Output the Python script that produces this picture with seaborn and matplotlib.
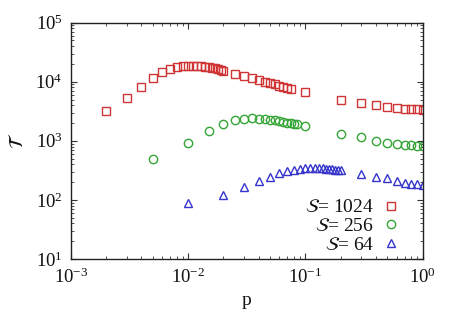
"""Relaxation time T versus p for three system sizes S (log-log)."""

import matplotlib.pyplot as plt
import matplotlib.ticker as mticker
import numpy as np
import pandas as pd
import seaborn as sns

# S = 1024
p_1024 = [0.002, 0.003, 0.004, 0.005, 0.006, 0.007, 0.008, 0.009,
          0.010, 0.011, 0.012, 0.013, 0.014, 0.015, 0.016, 0.017, 0.018, 0.019, 0.020,
          0.025, 0.030, 0.035, 0.040, 0.045, 0.050, 0.055, 0.060, 0.065, 0.070, 0.075,
          0.1, 0.2, 0.3, 0.4, 0.5, 0.6, 0.7, 0.8, 0.9, 1.0]
t_1024 = [3140, 5300, 8300, 11600, 14600, 16400, 17700, 18400,
          18500, 18600, 18500, 18200, 17900, 17600, 17200, 16800, 16400, 15900, 15400,
          13800, 12500, 11600, 10700, 9900, 9400, 9000, 8550, 8200, 7900, 7600,
          6600, 4950, 4350, 4080, 3770, 3660, 3520, 3440, 3400, 3310]

# S = 256
p_256 = [0.005, 0.010, 0.015, 0.020, 0.025, 0.030, 0.035, 0.040, 0.045, 0.050,
         0.055, 0.060, 0.065, 0.070, 0.075, 0.080, 0.085,
         0.1, 0.2, 0.3, 0.4, 0.5, 0.6, 0.7, 0.8, 0.9, 1.0]
t_256 = [490, 915, 1440, 1920, 2240, 2330, 2390, 2360, 2330, 2270,
         2210, 2160, 2100, 2040, 1990, 1940, 1890,
         1790, 1300, 1140, 1010, 935, 900, 865, 845, 832, 812]

# S = 64
p_64 = [0.01, 0.02, 0.03, 0.04, 0.05, 0.06, 0.07, 0.08, 0.09,
        0.10, 0.11, 0.12, 0.13, 0.14, 0.15, 0.16, 0.17, 0.18, 0.19, 0.20,
        0.3, 0.4, 0.5, 0.6, 0.7, 0.8, 0.9, 1.0]
t_64 = [90, 122, 164, 210, 245, 284, 310, 322, 335,
        340, 342, 343, 342, 340, 337, 333, 329, 325, 320, 315,
        279, 248, 230, 212, 196, 187, 182, 175]

series = [
    (r"$\mathcal{S}$= 1024", p_1024, t_1024, "s", "#d03535", 5.6),
    (r"$\mathcal{S}$= 256", p_256, t_256, "o", "#35a535", 6.0),
    (r"$\mathcal{S}$= 64", p_64, t_64, "^", "#3535cc", 5.6),
]

sns.set_theme(style="ticks")
plt.rcParams["font.family"] = ["Liberation Serif", "DejaVu Serif"]
plt.rcParams["mathtext.fontset"] = "stix"
plt.rcParams["font.size"] = 12

fig = plt.figure(figsize=(4.57, 3.2), dpi=100)
ax = fig.add_axes([0.155, 0.191, 0.77, 0.738])

for label, p, t, marker, color, ms in series:
    df = pd.DataFrame({"p": p, "T": t})
    sns.lineplot(
        data=df, x="p", y="T", ax=ax, label=label,
        marker=marker, linestyle="", markersize=ms,
        markerfacecolor="none", markeredgecolor=color,
        markeredgewidth=1.0, color=color, errorbar=None,
    )

ax.set_xscale("log")
ax.set_yscale("log")
ax.set_xlim(1e-3, 1)
ax.set_ylim(10, 1e5)
ax.xaxis.set_major_locator(mticker.LogLocator(base=10, numticks=10))
ax.yaxis.set_major_locator(mticker.LogLocator(base=10, numticks=10))
ax.xaxis.set_minor_locator(mticker.LogLocator(base=10, subs=np.arange(2, 10), numticks=20))
ax.yaxis.set_minor_locator(mticker.LogLocator(base=10, subs=np.arange(2, 10), numticks=20))
ax.xaxis.set_minor_formatter(mticker.NullFormatter())
ax.yaxis.set_minor_formatter(mticker.NullFormatter())
ax.tick_params(which="both", direction="in", top=True, right=True, labelsize=13.5,
               color="#333333", labelcolor="#111111")
ax.tick_params(which="major", length=4, width=0.8, pad=6)
ax.tick_params(which="minor", length=2, width=0.6)
for spine in ax.spines.values():
    spine.set_linewidth(1.0)
    spine.set_color("#222222")

ax.set_xlabel("p", fontsize=14, labelpad=4, color="#111111")
ax.set_ylabel(r"$\mathcal{T}$", fontsize=14, labelpad=6, color="#111111")

leg = ax.legend(
    loc="lower right", frameon=False, markerfirst=False, fontsize=14,
    handlelength=1.0, handletextpad=0.35, labelspacing=0.05,
    borderaxespad=0.3, bbox_to_anchor=(0.975, -0.035),
)
for txt in leg.get_texts():
    txt.set_color("#111111")

fig.savefig("out.png", dpi=100)
